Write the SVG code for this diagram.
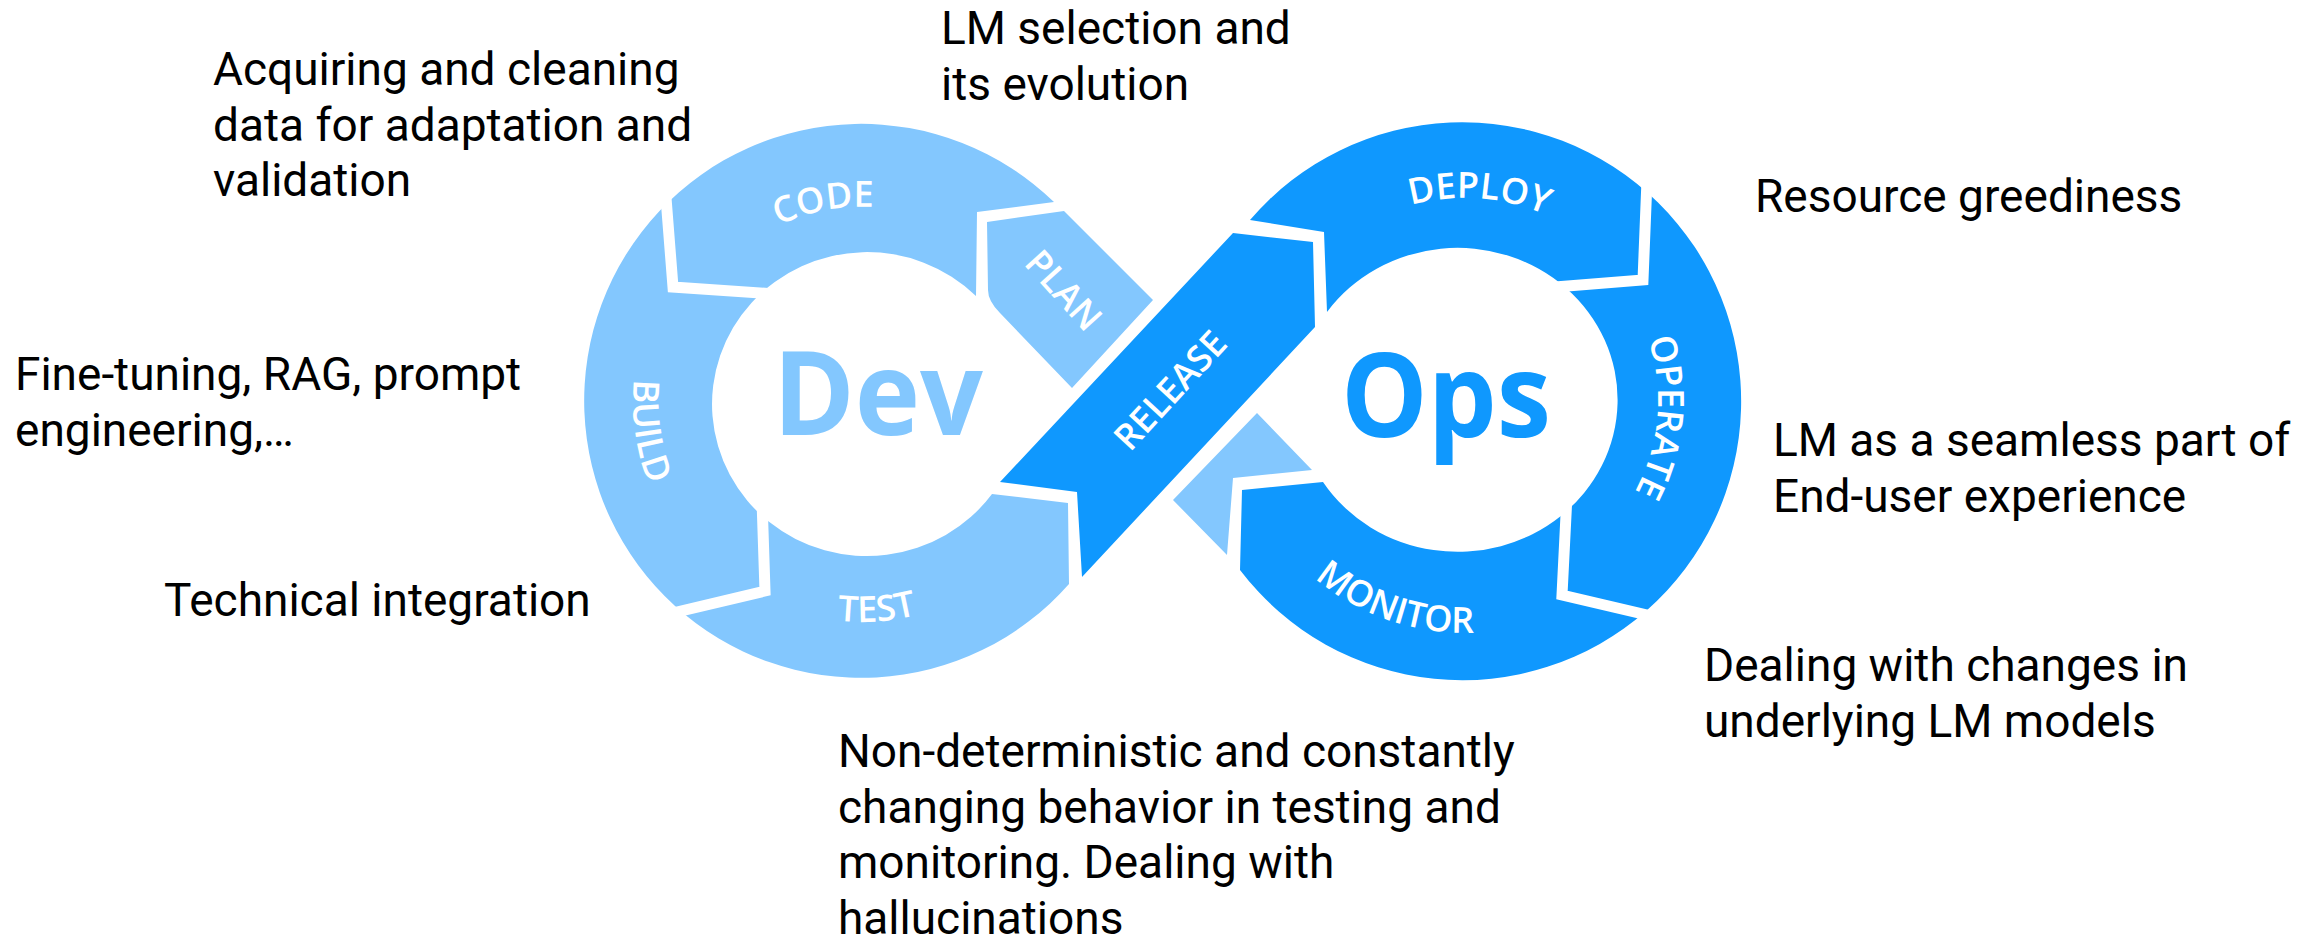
<svg xmlns="http://www.w3.org/2000/svg" width="2321" height="945" viewBox="0 0 2321 945">
  <style>
    .note { font-family: Roboto, "Liberation Sans", Arial, sans-serif; font-size: 46px; fill: #000; }
    .lbl { font-family: "Open Sans", "Noto Sans", "Liberation Sans", sans-serif; font-weight: 600; font-size: 36px; fill: #fff; }
    .big { font-family: "Open Sans", "Noto Sans", "Liberation Sans", sans-serif; font-weight: 700; font-size: 116px; }
    .light { fill: #83C7FE; }
    .dark { fill: #0F98FE; }
    .gap { fill: none; stroke: #fff; stroke-width: 11; stroke-linejoin: miter; stroke-linecap: butt; }
  </style>
  <defs>
    <!-- baselines for the curved stage labels -->
    <path id="arc-code" d="M677.8,334 A198,198 0 0 1 1007.6,269.9"/>
    <path id="arc-build" d="M721,220.5 A229,229 0 0 0 776.2,613.3"/>
    <path id="arc-test" d="M678.8,524.6 A221,221 0 0 0 1060.6,497.9"/>
    <path id="arc-deploy" d="M1297.5,287 A202,202 0 0 1 1646.6,311.4"/>
    <path id="arc-operate" d="M1575.7,241.9 A193,193 0 0 1 1546.6,574.9"/>
    <path id="arc-monitor" d="M1236.3,444.5 A233,233 0 0 0 1617.9,575.8"/>
  </defs>

  <rect width="2321" height="945" fill="#fff"/>

  <!-- Dev loop: CODE, BUILD, TEST -->
  <g id="dev-loop">
    <path class="light" d="M1054,202 A277,277 0 1 0 1069,584 L1068,503 L992,494 A155,152 0 1 1 976,296 L977,212 Z"/>
    <path class="gap" d="M665,185 L673,287 L775,294"/>
    <path class="gap" d="M660,616 L765,591 L762,500"/>
    <text class="lbl"><textPath href="#arc-code" startOffset="50%" text-anchor="middle">CODE</textPath></text>
    <text class="lbl"><textPath href="#arc-build" startOffset="50%" text-anchor="middle">BUILD</textPath></text>
    <text class="lbl"><textPath href="#arc-test" startOffset="50%" text-anchor="middle">TEST</textPath></text>
    <text class="big light" x="773" y="435" textLength="210" lengthAdjust="spacingAndGlyphs">Dev</text>
  </g>

  <!-- PLAN arrow, passing under RELEASE -->
  <g id="plan">
    <path class="light" d="M987,222 L1064,211 L1153,300 L1072,388 L1000,313 Q988,301 988,290 Z"/>
    <text class="lbl" transform="translate(1064,290) rotate(48)" x="0" y="13" text-anchor="middle">PLAN</text>
  </g>
  <g id="plan-tail">
    <path class="light" d="M1173,500 L1257,413 L1312,470 L1233,478 L1227,555 Z"/>
  </g>

  <!-- RELEASE band crossing the middle -->
  <g id="release">
    <path class="dark" d="M1000,482 L1233,233 L1313,242 L1315,327 L1082,577 L1077,492 Z"/>
    <text class="lbl" transform="translate(1170,390) rotate(-47.4)" x="0" y="13" text-anchor="middle">RELEASE</text>
  </g>

  <!-- Ops loop: DEPLOY, OPERATE, MONITOR -->
  <g id="ops-loop">
    <path class="dark" d="M1250,220 A279,279 0 1 1 1240,570 L1242,490 L1323,482 A160,152 0 1 0 1327,312 L1324,232 Z"/>
    <path class="gap" d="M1647,180 L1643,280 L1555,287"/>
    <path class="gap" d="M1660,618 L1562,595 L1567,495"/>
    <text class="lbl"><textPath href="#arc-deploy" startOffset="50%" text-anchor="middle">DEPLOY</textPath></text>
    <text class="lbl"><textPath href="#arc-operate" startOffset="50%" text-anchor="middle">OPERATE</textPath></text>
    <text class="lbl"><textPath href="#arc-monitor" startOffset="50%" text-anchor="middle">MONITOR</textPath></text>
    <text class="big dark" x="1341" y="437" textLength="210" lengthAdjust="spacingAndGlyphs">Ops</text>
  </g>

  <!-- annotations -->
  <g id="note-lm-selection">
    <text class="note" x="941" y="44">LM selection and</text>
    <text class="note" x="941" y="99.5">its evolution</text>
  </g>
  <g id="note-data">
    <text class="note" x="213" y="85">Acquiring and cleaning</text>
    <text class="note" x="213" y="140.5">data for adaptation and</text>
    <text class="note" x="213" y="196">validation</text>
  </g>
  <g id="note-resources">
    <text class="note" x="1755" y="212">Resource greediness</text>
  </g>
  <g id="note-tuning">
    <text class="note" x="15" y="390">Fine-tuning, RAG, prompt</text>
    <text class="note" x="15" y="445.5">engineering,…</text>
  </g>
  <g id="note-experience">
    <text class="note" x="1773" y="456">LM as a seamless part of</text>
    <text class="note" x="1773" y="511.5">End-user experience</text>
  </g>
  <g id="note-integration">
    <text class="note" x="164" y="616">Technical integration</text>
  </g>
  <g id="note-model-changes">
    <text class="note" x="1704" y="681">Dealing with changes in</text>
    <text class="note" x="1704" y="736.5">underlying LM models</text>
  </g>
  <g id="note-behavior">
    <text class="note" x="838" y="767">Non-deterministic and constantly</text>
    <text class="note" x="838" y="822.5">changing behavior in testing and</text>
    <text class="note" x="838" y="878">monitoring. Dealing with</text>
    <text class="note" x="838" y="933.5">hallucinations</text>
  </g>
</svg>
